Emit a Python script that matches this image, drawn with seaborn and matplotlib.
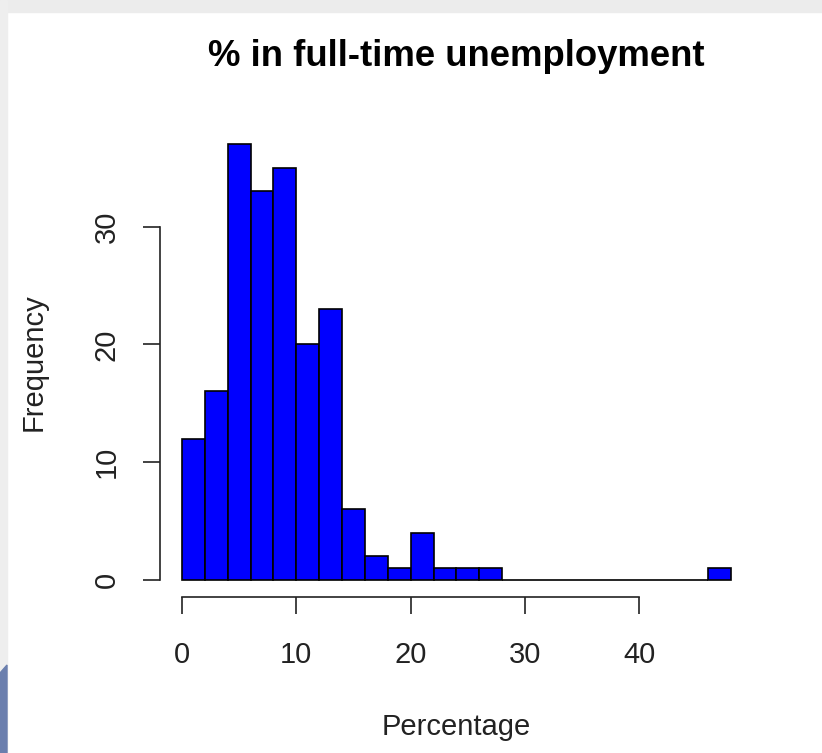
import numpy as np
import pandas as pd
import matplotlib
matplotlib.use("Agg")
import matplotlib.pyplot as plt
from matplotlib.patches import Rectangle, Polygon
import seaborn as sns

# Histogram of % in full-time unemployment, bins of width 2
bin_edges = list(range(0, 50, 2))
bin_counts = [12, 16, 37, 33, 35, 20, 23, 6, 2, 1, 4, 1, 1, 1,
              0, 0, 0, 0, 0, 0, 0, 0, 0, 1]
x_ticks = [0, 10, 20, 30, 40]
y_ticks = [0, 10, 20, 30]

bin_mids = [(a + b) / 2 for a, b in zip(bin_edges[:-1], bin_edges[1:])]
df = pd.DataFrame({"Percentage": bin_mids, "count": bin_counts})

sns.set_theme(style="white")
plt.rcParams["font.family"] = ["Liberation Sans", "DejaVu Sans"]

fig = plt.figure(figsize=(8.22, 7.53), dpi=100)
ax = fig.add_axes([0.1946, 0.2067, 0.7214, 0.6250])

sns.histplot(data=df, x="Percentage", weights="count", bins=bin_edges,
             color="#0000ff", edgecolor="black", linewidth=1.2,
             alpha=1.0, ax=ax)

ax.set_xlim(-1.92, 49.92)
ax.set_ylim(-1.48, 38.48)

# detached R-style axes
for side in ("top", "right"):
    ax.spines[side].set_visible(False)
for side in ("left", "bottom"):
    ax.spines[side].set_color("#222222")
    ax.spines[side].set_linewidth(1.2)
ax.spines["bottom"].set_bounds(x_ticks[0], x_ticks[-1])
ax.spines["left"].set_bounds(y_ticks[0], y_ticks[-1])

ax.set_xticks(x_ticks)
ax.set_yticks(y_ticks)
ax.tick_params(axis="both", which="major", direction="out", length=12.5,
               width=1.2, color="#222222", labelsize=21,
               labelcolor="#222222", bottom=True, left=True)
ax.tick_params(axis="x", pad=19)
ax.tick_params(axis="y", pad=16, labelrotation=90)
for lbl in ax.get_yticklabels():
    lbl.set_va("center")

ax.set_xlabel("Percentage", fontsize=21, color="#222222")
ax.set_ylabel("Frequency", fontsize=21, color="#222222")
ax.xaxis.set_label_coords(0.5, -0.245)
ax.yaxis.set_label_coords(-0.19, 0.5)

ax.set_title("% in full-time unemployment", fontsize=26.3,
             fontweight="bold", color="black", y=1.128, va="baseline", pad=0)

# light frame strips along the top and left edges
fig.patches.append(Rectangle((0, 1 - 12 / 753), 1, 12 / 753,
                             transform=fig.transFigure, color="#ececec",
                             zorder=0))
fig.patches.append(Rectangle((0, 0), 7 / 822, 1, transform=fig.transFigure,
                             color="#eeeeee", zorder=0))
fig.patches.append(Polygon([(0, 0), (7 / 822, 0), (7 / 822, 1 - 665 / 753),
                            (0, 1 - 673 / 753)],
                           closed=True, transform=fig.transFigure,
                           color="#6b7fae", zorder=1))

fig.savefig("out.png", dpi=100)
